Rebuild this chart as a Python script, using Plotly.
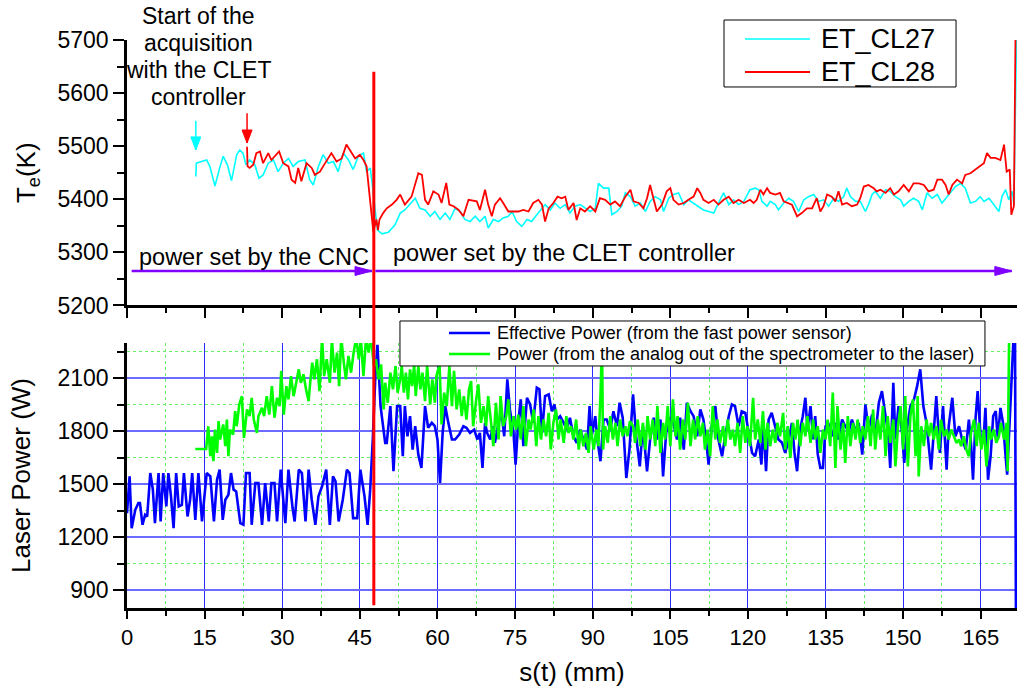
import plotly.graph_objects as go

FONT = "Liberation Sans, Arial, sans-serif"

# ---------------- electron temperature (upper panel) ----------------
cl27_s = [13.3, 13.4, 14.4, 15.4, 16.0, 17.0, 17.9, 18.6, 19.4, 20.2,
          21.2, 21.8, 22.4, 23.0, 23.7, 24.7, 25.5, 26.3, 27.3, 28.3,
          29.2, 30.2, 31.2, 32.1, 33.1, 34.4, 35.3, 36.0, 37.0, 37.9,
          38.9, 39.9, 40.8, 41.8, 42.8, 43.7, 44.7, 45.7, 46.3, 47.0,
          47.3, 47.9, 48.4, 49.3, 50.5, 51.8, 52.8, 53.7, 54.7, 55.7,
          56.6, 57.6, 58.6, 59.5, 60.5, 61.5, 62.4, 63.4, 64.4, 65.3,
          66.3, 67.3, 68.2, 69.2, 69.8, 70.8, 71.8, 72.7, 73.7, 74.4,
          75.3, 76.3, 77.3, 78.2, 79.2, 80.2, 80.8, 81.8, 82.7, 83.7,
          84.7, 85.6, 86.6, 87.6, 88.5, 89.5, 90.5, 91.1, 92.1, 93.1,
          93.7, 94.7, 95.6, 96.3, 97.3, 98.2, 99.2, 100.2, 101.1, 102.1,
          103.1, 103.7, 104.7, 105.6, 106.6, 107.6, 108.5, 109.5, 110.5, 111.4,
          112.4, 113.4, 114.3, 115.3, 116.3, 117.2, 118.2, 119.2, 120.4, 121.4,
          122.1, 122.7, 123.7, 124.3, 125.3, 125.9, 126.9, 127.9, 128.8, 129.8,
          130.8, 131.7, 132.7, 133.7, 134.6, 135.6, 136.6, 137.5, 138.5, 139.1,
          139.8, 140.8, 141.7, 142.7, 143.3, 144.0, 144.6, 145.6, 146.6, 147.5,
          148.5, 149.5, 150.1, 151.1, 152.0, 153.0, 153.7, 154.6, 155.6, 156.6,
          157.5, 158.5, 159.5, 160.1, 161.1, 162.0, 163.0, 164.0, 164.9, 165.6,
          166.6, 167.5, 168.5, 169.1, 169.8, 170.4, 171.1, 171.4, 171.9]
cl27_te = [5443, 5468, 5471, 5474, 5462, 5425, 5459, 5481, 5465, 5435,
           5484, 5493, 5487, 5465, 5474, 5465, 5440, 5446, 5468, 5474,
           5452, 5468, 5477, 5462, 5471, 5474, 5437, 5427, 5462, 5484,
           5468, 5471, 5452, 5487, 5474, 5456, 5481, 5487, 5452, 5459,
           5437, 5390, 5342, 5335, 5338, 5352, 5374, 5380, 5390, 5402,
           5383, 5380, 5368, 5377, 5362, 5374, 5362, 5383, 5377, 5362,
           5358, 5368, 5358, 5368, 5346, 5362, 5358, 5365, 5368, 5377,
           5358, 5349, 5362, 5358, 5371, 5383, 5390, 5380, 5393, 5383,
           5390, 5374, 5387, 5390, 5383, 5377, 5383, 5430, 5421, 5421,
           5371, 5377, 5387, 5412, 5405, 5387, 5393, 5377, 5396, 5405,
           5399, 5377, 5402, 5409, 5412, 5390, 5399, 5393, 5387, 5380,
           5377, 5374, 5393, 5412, 5390, 5399, 5390, 5396, 5418, 5421,
           5418, 5396, 5387, 5396, 5390, 5380, 5393, 5402, 5396, 5377,
           5399, 5405, 5409, 5396, 5399, 5387, 5402, 5396, 5405, 5421,
           5405, 5396, 5396, 5377, 5390, 5409, 5415, 5402, 5418, 5415,
           5405, 5399, 5387, 5396, 5402, 5396, 5380, 5412, 5402, 5409,
           5393, 5405, 5418, 5424, 5430, 5421, 5393, 5396, 5405, 5396,
           5402, 5390, 5377, 5405, 5418, 5399, 5415, 5390, 5700]

cl28_s = [23.2, 23.3, 23.7, 24.4, 25.0, 25.7, 26.3, 27.3, 27.9, 28.6,
          29.4, 30.2, 31.2, 31.8, 32.5, 33.1, 33.7, 34.7, 35.7, 36.3,
          37.3, 37.9, 38.6, 39.5, 40.5, 41.5, 42.4, 43.1, 44.1, 45.0,
          45.7, 46.3, 46.6, 47.3, 47.6, 48.2, 48.5, 48.8, 49.5, 50.2,
          51.2, 52.1, 52.8, 53.7, 55.0, 56.3, 57.0, 57.6, 58.2, 59.2,
          60.2, 60.8, 61.7, 62.3, 63.1, 64.1, 65.0, 66.0, 67.6, 68.2,
          69.2, 69.8, 70.5, 71.1, 72.1, 72.7, 73.7, 74.7, 75.6, 76.6,
          77.6, 78.5, 79.5, 80.2, 80.8, 81.5, 82.4, 83.2, 84.0, 84.7,
          85.3, 86.3, 86.9, 87.6, 88.5, 89.5, 90.5, 91.4, 92.4, 93.4,
          94.3, 95.3, 96.3, 97.3, 97.9, 98.9, 99.8, 100.5, 101.1, 101.8,
          102.4, 103.4, 104.3, 105.0, 105.6, 106.6, 107.6, 108.5, 109.5, 110.2,
          110.8, 111.4, 112.4, 113.4, 114.3, 115.3, 116.3, 117.2, 118.2, 119.2,
          120.4, 121.1, 121.7, 122.4, 123.0, 123.7, 124.3, 125.3, 126.2, 126.9,
          127.9, 128.5, 129.5, 130.4, 131.4, 132.4, 133.3, 134.0, 134.6, 135.3,
          136.2, 136.9, 137.5, 138.2, 139.1, 140.1, 141.1, 141.7, 142.4, 143.3,
          144.3, 144.9, 145.6, 146.6, 147.5, 148.2, 149.1, 150.1, 151.1, 152.0,
          153.0, 154.0, 154.9, 155.9, 156.6, 157.5, 158.2, 158.8, 159.5, 160.4,
          161.4, 162.0, 163.0, 164.0, 164.9, 165.6, 166.2, 166.9, 167.8, 168.8,
          169.5, 170.0, 170.6, 170.9, 171.4, 171.7]
cl28_te = [5499, 5462, 5459, 5465, 5487, 5490, 5468, 5487, 5474, 5481,
           5490, 5468, 5462, 5437, 5431, 5459, 5434, 5468, 5459, 5446,
           5452, 5462, 5474, 5487, 5471, 5477, 5503, 5493, 5477, 5484,
           5474, 5462, 5436, 5374, 5339, 5362, 5342, 5362, 5374, 5383,
           5390, 5399, 5409, 5390, 5405, 5449, 5446, 5399, 5390, 5415,
           5409, 5393, 5431, 5390, 5387, 5380, 5368, 5399, 5396, 5380,
           5418, 5390, 5368, 5390, 5402, 5393, 5377, 5377, 5377, 5380,
           5377, 5393, 5399, 5390, 5358, 5383, 5393, 5405, 5402, 5405,
           5380, 5393, 5361, 5383, 5377, 5387, 5377, 5402, 5399, 5390,
           5396, 5387, 5405, 5418, 5396, 5393, 5383, 5402, 5427, 5399,
           5377, 5390, 5415, 5421, 5399, 5390, 5393, 5399, 5405, 5421,
           5412, 5399, 5393, 5399, 5390, 5399, 5405, 5393, 5399, 5393,
           5399, 5393, 5399, 5418, 5409, 5421, 5412, 5409, 5412, 5396,
           5393, 5390, 5368, 5374, 5383, 5383, 5402, 5377, 5387, 5409,
           5405, 5396, 5415, 5390, 5393, 5387, 5390, 5402, 5424, 5427,
           5421, 5415, 5418, 5412, 5421, 5409, 5415, 5427, 5415, 5430,
           5430, 5427, 5415, 5418, 5437, 5437, 5427, 5409, 5427, 5437,
           5430, 5446, 5449, 5456, 5462, 5468, 5487, 5478, 5478, 5474,
           5503, 5452, 5456, 5371, 5387, 5700]

# ---------------- laser power (lower panel) ----------------
eff_s = [0.0, 0.5, 0.9, 1.6, 2.2, 2.5, 3.0, 3.5, 3.9, 4.5,
         5.0, 5.4, 6.1, 6.5, 7.0, 7.6, 8.0, 8.5, 9.0, 9.5,
         10.0, 10.6, 11.0, 11.7, 12.2, 12.6, 13.2, 13.8, 14.5, 15.4,
         16.1, 16.8, 17.4, 17.9, 18.5, 19.0, 19.6, 20.1, 20.6, 21.1,
         21.9, 22.5, 23.0, 23.7, 24.1, 24.8, 25.4, 26.1, 26.7, 27.4,
         27.9, 28.5, 29.0, 29.7, 30.6, 31.2, 32.0, 32.4, 33.2, 33.8,
         34.5, 35.1, 35.7, 36.4, 37.0, 37.7, 38.5, 39.2, 39.8, 40.3,
         40.9, 41.7, 42.5, 43.0, 43.7, 44.5, 45.1, 45.9, 46.5, 47.0,
         47.5, 48.0, 48.4, 49.0, 49.9, 50.2, 50.9, 51.5, 52.2,
         52.8, 53.3, 53.7, 54.2, 54.7, 55.2, 55.7, 56.3, 56.9, 57.6,
         58.2, 58.9, 59.5, 60.0, 60.5, 61.0, 61.5, 62.1, 62.8, 63.4,
         64.2, 65.0, 65.6, 66.3, 67.1, 67.7, 68.2, 68.7, 69.2, 69.6,
         70.2, 70.7, 71.1, 71.8, 72.4, 72.9, 73.5, 74.0, 74.7, 75.1,
         75.6, 76.1, 76.6, 77.3, 77.9, 78.5, 79.2, 79.7, 80.2, 80.8,
         81.5, 82.1, 82.6, 83.1, 83.7, 84.4, 85.0, 85.6, 86.3, 86.9,
         87.6, 88.2, 88.9, 89.4, 89.8, 90.5, 90.9, 91.5, 92.1, 92.7,
         93.4, 94.0, 94.7, 95.2, 95.8, 96.5, 97.1, 97.8, 98.4, 99.1,
         99.7, 100.5, 101.1, 101.8, 102.4, 103.1, 103.6, 104.2, 104.9, 105.5,
         106.3, 106.9, 107.6, 108.2, 108.9, 109.5, 110.2,
         110.8, 111.4, 111.9, 112.4, 113.0, 113.7, 114.3, 115.0, 115.6, 116.3,
         116.9, 117.5, 118.2, 118.8, 119.5, 120.1, 120.8, 121.4, 122.1, 122.6,
         123.0, 123.5, 124.0, 124.6, 125.3, 125.9, 126.6, 127.2, 127.9, 128.5,
         129.0, 129.5, 130.1, 130.6, 131.1, 131.5, 132.1, 132.6, 133.0, 133.5,
         134.0, 134.5, 135.0, 135.6, 136.3, 136.9, 137.5, 138.2, 138.8, 139.5,
         140.1, 140.8, 141.4, 142.1, 142.7, 143.3, 144.0, 144.6, 145.3, 145.9,
         146.6, 147.1, 147.5, 148.1, 148.5, 149.1, 149.8, 150.2, 150.8, 151.4,
         152.1, 152.7, 153.3, 153.9, 154.5, 155.0, 155.4, 155.9, 156.4, 157.1,
         157.7, 158.4, 158.8, 159.5, 160.1, 160.8, 161.4, 162.1, 162.7, 163.1,
         163.5, 164.0, 164.4, 165.0, 165.5, 165.9, 166.4, 166.9, 167.4, 167.9,
         168.3, 168.8, 169.3, 169.8, 170.1, 171.6, 171.8]
eff_p = [1337, 1545, 1252, 1356, 1394, 1394, 1271, 1328, 1318, 1564,
         1470, 1280, 1564, 1290, 1564, 1375, 1564, 1432, 1252, 1564,
         1375, 1384, 1564, 1318, 1413, 1564, 1299, 1564, 1290, 1564,
         1545, 1290, 1526, 1583, 1299, 1413, 1441, 1564, 1470, 1460,
         1280, 1271, 1564, 1564, 1271, 1507, 1507, 1271, 1507, 1290,
         1507, 1507, 1290, 1583, 1280, 1583, 1366, 1290, 1583, 1564,
         1290, 1583, 1413, 1271, 1432, 1489, 1583, 1271, 1545, 1517,
         1290, 1413, 1583, 1564, 1309, 1309, 1583, 1432, 1271, 1470,
         1754, 2113, 2290, 1943, 1735, 1735, 1943, 1574, 1943,
         1943, 1659, 1943, 1772, 1886, 1697, 1829, 1668, 1593, 1943,
         1820, 1848, 1829, 1754, 1508, 1791, 1943, 1848, 1754, 1754,
         1782, 1829, 1820, 1791, 1810, 1754, 1791, 1593, 1848, 1791,
         1754, 1829, 1735, 1848, 1905, 1772, 2094, 1924, 1791, 1612,
         1848, 1981, 1716, 1990, 1952, 1848, 2047, 2038, 1791, 1999,
         2009, 1914, 1952, 1867, 1886, 1848, 1810, 1877, 1772, 1735,
         1810, 1754, 1697, 1943, 1772, 1886, 1754, 1631, 1867, 1867,
         1810, 1914, 1829, 1962, 1877, 1536, 1697, 2009, 1772, 1602,
         1829, 1574, 1754, 1877, 1754, 1867, 1545, 1791, 1877, 1858,
         1754, 1877, 1697, 1962, 1914, 1886, 1772,
         1924, 1867, 1754, 1612, 1829, 1943, 1754, 1659, 1772, 1886,
         1952, 1943, 1829, 1914, 1905, 1791, 1678, 1659, 1754, 1612,
         1848, 1574, 1867, 1905, 1829, 1754, 1735, 1678, 1754, 1848,
         1678, 1574, 1810, 1886, 1990, 1810, 1943, 1754, 1886, 1668,
         1593, 1593, 1829, 1839, 1772, 1848, 1754, 1867, 1829, 1801,
         1867, 1801, 1848, 1668, 1952, 1810, 1895, 1772, 1962, 2028,
         1886, 1791, 1593, 2075, 1754, 1943, 1791, 1621, 1829, 1943,
         1981, 2056, 2151, 1943, 1848, 1678, 1583, 1791, 2000, 1678,
         1943, 1583, 1829, 1990, 1772, 1829, 1754, 1697, 1867, 1735,
         1526, 1877, 2028, 1754, 1735, 1933, 1526, 1659, 1886, 1914,
         1754, 1933, 1848, 1659, 1555, 2500, 700]

ana_s = [13.2, 15.3, 15.7, 16.1, 16.4, 16.7, 17.0, 17.4, 17.7, 18.0,
         18.6, 19.0, 19.3, 19.6, 19.9, 20.5, 20.9, 21.2, 21.7, 22.2,
         22.6, 23.2, 23.7, 24.1, 24.5, 25.1, 25.4, 26.1, 26.5, 27.0,
         27.5, 28.0, 28.5, 29.0, 29.5, 29.8, 30.3, 30.8, 31.2, 31.7,
         32.2, 32.7, 33.2, 33.6, 34.1, 34.6, 35.1, 35.4, 35.8, 36.2,
         36.7, 37.2, 37.7, 38.1, 38.6, 39.2, 39.6, 40.1, 40.6, 41.0,
         41.4, 41.9, 42.3, 42.8, 43.3, 43.8, 44.3, 44.8, 45.2, 45.7,
         46.2, 46.7, 47.2, 47.7, 48.1, 48.6, 49.1, 49.6, 49.9, 50.4,
         50.9, 51.4, 51.9, 52.3,
         52.8, 53.1, 53.5, 53.9, 54.3, 54.7, 55.1, 55.5, 55.8, 56.3,
         56.7, 57.1, 57.6, 58.0, 58.6, 59.0, 59.5, 59.8, 60.4, 60.8,
         61.3, 61.8, 62.3, 62.8, 63.2, 63.7, 64.2, 64.7, 65.1, 65.6,
         66.1, 66.5, 66.9, 67.5, 67.9, 68.4, 68.9, 69.4, 69.8, 70.3,
         70.8, 71.3, 71.8, 72.2, 72.7, 73.3, 73.7, 74.2, 74.7, 75.2,
         75.6, 76.1, 76.6, 77.1, 77.6, 78.0, 78.6, 79.1, 79.5, 80.0,
         80.5, 81.0, 81.5, 81.9, 82.4, 82.9, 83.4, 83.8, 84.4, 84.9,
         85.3, 85.8, 86.3, 86.8, 87.3, 87.7, 88.2, 88.7, 89.2, 89.6,
         90.2, 90.7, 91.1, 91.5, 91.8, 92.0, 92.4, 92.9, 93.4, 93.9,
         94.4, 94.8, 95.3, 95.8, 96.3, 96.7, 97.2, 97.8, 98.2, 98.7,
         99.2, 99.7, 100.2, 100.6, 101.1, 101.6, 102.1, 102.5, 103.1, 103.6,
         104.0, 104.5, 105.0, 105.5, 106.0, 106.4, 106.9, 107.4, 107.9, 108.4,
         108.9, 109.4, 109.8, 110.3,
         110.8, 111.3, 111.7, 112.2, 112.7, 113.2, 113.7, 114.1, 114.6, 115.2,
         115.6, 116.1, 116.6, 117.1, 117.5, 118.0, 118.5, 119.0, 119.5, 119.9,
         120.4, 121.0, 121.4, 121.9, 122.4, 122.9, 123.4, 123.8, 124.3, 124.8,
         125.3, 125.7, 126.2, 126.8, 127.2, 127.7, 128.2, 128.7, 129.2, 129.6,
         130.1, 130.6, 131.1, 131.5, 132.1, 132.6, 133.0, 133.5, 134.0, 134.5,
         135.0, 135.4, 135.9, 136.4, 136.9, 137.3, 137.9, 138.4, 138.8, 139.3,
         139.8, 140.3, 140.8, 141.2, 141.7, 142.2, 142.7, 143.2, 143.7, 144.2,
         144.6, 145.1, 145.6, 146.1, 146.6, 147.0, 147.5, 148.1, 148.5, 149.0,
         149.5, 150.0, 150.4, 150.9, 151.4, 151.9, 152.4, 152.8, 153.0, 153.5,
         154.0, 154.5, 155.0, 155.4, 155.9, 156.4, 156.9, 157.3, 157.9, 158.4,
         158.8, 159.3, 159.8, 160.3, 160.8, 161.2, 161.7, 162.2, 162.7, 163.1,
         163.7, 164.2, 164.6, 165.1, 165.6, 166.1, 166.6, 167.0, 167.5, 168.0,
         168.5, 168.9, 169.5, 170.0, 170.2, 170.5]
ana_p = [1700, 1700, 1829, 1659, 1772, 1631, 1810, 1678, 1858, 1754,
         1839, 1716, 1867, 1659, 1810, 1782, 1914, 1829, 1952, 1999,
         1763, 1924, 1886, 1990, 1867, 1791, 1886, 1933, 1886, 1999,
         1895, 2056, 1877, 1990, 1943, 2142, 1895, 2056, 1981, 2113,
         1999, 2066, 2151, 2075, 2123, 2038, 1971, 2075, 2189, 2094,
         2208, 2028, 2330, 2113, 2208, 2075, 2320, 2132, 2246, 2056,
         2330, 2189, 2094, 2227, 2132, 2246, 2330, 2208, 2320, 2113,
         2330, 2246, 2330, 2170, 2208, 2094, 2179, 1924, 2075, 1962,
         2132, 2038, 2170, 2019,
         2094, 2170, 2019, 2132, 1981, 2151, 2056, 2179, 2000, 2170,
         2038, 2132, 1971, 2170, 1952, 2094, 1962, 2113, 2179, 1839,
         2019, 1943, 2170, 1943, 2142, 1924, 2038, 1886, 2000, 1867,
         2038, 2085, 1829, 1981, 2066, 1848, 1943, 1829, 2000, 1867,
         1716, 1962, 1754, 2000, 1829, 1886, 1981, 1772, 1886, 1810,
         1895, 1754, 1943, 1716, 1867, 1810, 1924, 1716, 1886, 1754,
         1867, 1772, 1905, 1697, 1848, 1924, 1754, 1867, 1735, 1886,
         1791, 1829, 1754, 1867, 1697, 1810, 1716, 1791, 1678, 1829,
         1697, 1810, 1716, 2000, 2300, 1697, 1829, 1735, 1886, 1754,
         1848, 1716, 1867, 1772, 1829, 1772, 1858, 1829, 1735, 1867,
         1716, 1848, 1697, 1886, 1754, 1867, 1716, 1943, 1678, 1848,
         1754, 1943, 1716, 1981, 1772, 1886, 1697, 1867, 1754, 1962,
         1716, 1867, 1754, 1886,
         1772, 1848, 1697, 1810, 1659, 1943, 1754, 1867, 1735, 1829,
         1716, 1867, 1754, 1810, 1716, 1848, 1678, 1886, 1735, 1829,
         1716, 1990, 1754, 1867, 1735, 1914, 1697, 1848, 1716, 1810,
         1735, 1848, 1772, 1905, 1697, 1829, 1649, 1848, 1754, 1867,
         1716, 1848, 1772, 1886, 1735, 1867, 1754, 1829, 1678, 1810,
         1754, 1867, 1716, 2019, 1593, 1943, 1697, 1848, 1621, 1886,
         1716, 1848, 1754, 1867, 1735, 1829, 1754, 1886, 1716, 1924,
         1697, 1867, 1754, 1943, 1659, 1886, 1735, 1867, 1602, 1829,
         1943, 1697, 2000, 1602, 1886, 1981, 1659, 2000, 1545, 1829,
         1716, 1867, 1772, 1848, 1754, 1829, 1697, 1867, 1772, 1810,
         1754, 1810, 1772, 1735, 1754, 1716, 1772, 1697, 1659, 1791,
         1867, 1716, 1848, 1697, 1810, 1602, 1829, 1754, 1810, 1735,
         1772, 1848, 1754, 1848, 1574, 2400]

# axis ticks
s_ticks = list(range(0, 166, 15))
te_ticks = [5200, 5300, 5400, 5500, 5600, 5700]
p_ticks = [900, 1200, 1500, 1800, 2100]

# switch from CNC power setting to the CLET controller
switch_s = 47.7
arrow_te = 5265

# series styling
CYAN, RED, BLUE, GREEN, PURPLE = "#00FFFF", "#FF0000", "#0000FF", "#00FF00", "#8000FF"
name27, name28 = "ET_CL27", "ET_CL28"
name_eff = "Effective Power (from the fast power sensor)"
name_ana = "Power (from the analog out of the spectrometer to the laser)"

fig = go.Figure()
fig.add_trace(go.Scatter(x=cl27_s, y=cl27_te, mode="lines", name=name27,
                         line=dict(color=CYAN, width=1.6), xaxis="x2", yaxis="y2"))
fig.add_trace(go.Scatter(x=cl28_s, y=cl28_te, mode="lines", name=name28,
                         line=dict(color=RED, width=1.8), xaxis="x2", yaxis="y2"))
fig.add_trace(go.Scatter(x=eff_s, y=eff_p, mode="lines", name=name_eff,
                         line=dict(color=BLUE, width=2.6), xaxis="x", yaxis="y"))
fig.add_trace(go.Scatter(x=ana_s, y=ana_p, mode="lines", name=name_ana,
                         line=dict(color=GREEN, width=2.6), xaxis="x", yaxis="y"))

x_tick_font = dict(family=FONT, size=22, color="black")
y_tick_font = dict(family=FONT, size=23, color="black")
common_x = dict(range=[0, 172], tickvals=s_ticks, showline=True, linecolor="black",
                linewidth=2.5, ticks="outside", tickwidth=2, tickcolor="black",
                zeroline=False, tickfont=x_tick_font)
dotted_green = "#66ee66"

fig.update_layout(
    width=1024, height=693,
    margin=dict(l=127, r=7, t=40, b=85),
    paper_bgcolor="white", plot_bgcolor="white",
    font=dict(family=FONT, color="black"),
    showlegend=False,
    xaxis=dict(**common_x, anchor="y", ticklen=8,
               showgrid=True, gridcolor="#2a2aff", gridwidth=1,
               minor=dict(dtick=7.5, tick0=0, ticks="outside", ticklen=5, tickwidth=2,
                          tickcolor="black", showgrid=True, gridcolor=dotted_green,
                          griddash="dot", gridwidth=1),
               title=dict(text="s(t) (mm)", font=dict(family=FONT, size=26), standoff=14)),
    xaxis2=dict(**common_x, anchor="y2", matches="x", ticklen=10, showticklabels=False,
                showgrid=False,
                minor=dict(dtick=7.5, tick0=0, ticks="outside", ticklen=5, tickwidth=2,
                           tickcolor="black", showgrid=False)),
    yaxis=dict(domain=[0, 0.4665], range=[800, 2300], tickvals=p_ticks,
               showline=True, linecolor="black", linewidth=2.5, ticks="outside",
               ticklen=11, tickwidth=2, tickcolor="black", zeroline=False,
               tickfont=y_tick_font, showgrid=True, gridcolor="#6b6bff", gridwidth=2,
               minor=dict(dtick=150, tick0=900, ticks="outside", ticklen=7, tickwidth=2,
                          tickcolor="black", showgrid=True, gridcolor=dotted_green,
                          griddash="dot", gridwidth=1),
               title=dict(text="Laser Power (W)", font=dict(family=FONT, size=26),
                          standoff=20)),
    yaxis2=dict(domain=[0.5326, 1], range=[5200, 5700], tickvals=te_ticks,
                showline=True, linecolor="black", linewidth=2.5, ticks="outside",
                ticklen=11, tickwidth=2, tickcolor="black", zeroline=False,
                tickfont=y_tick_font, showgrid=False,
                minor=dict(dtick=50, tick0=5200, ticks="outside", ticklen=7, tickwidth=2,
                           tickcolor="black", showgrid=False),
                title=dict(text="T<sub>e</sub>(K)", font=dict(family=FONT, size=26),
                           standoff=15)),
)

shapes = []
annotations = []

# vertical marker at the switch position, spanning both panels
shapes.append(dict(type="line", xref="x", yref="paper", x0=switch_s, x1=switch_s,
                   y0=0.005, y1=0.944, line=dict(color=RED, width=3)))


def arrow(x0, y0, x1, y1, color, width, head):
    """Arrow in data coordinates of the upper panel; head path given in pixels."""
    shapes.append(dict(type="line", xref="x2", yref="y2", x0=x0, y0=y0, x1=x1, y1=y1,
                       line=dict(color=color, width=width)))
    shapes.append(dict(type="path", xref="x2", yref="y2", xsizemode="pixel",
                       ysizemode="pixel", xanchor=x1, yanchor=y1, path=head,
                       fillcolor=color, line=dict(color=color, width=1)))


RIGHT_HEAD = "M0,0 L-17,4.5 L-17,-4.5 Z"
DOWN_HEAD = "M0,0 L-5,13 L5,13 Z"
# span of the CNC-driven power and of the CLET-driven power
arrow(0.9, arrow_te, 47.35, arrow_te, PURPLE, 2.5, RIGHT_HEAD)
arrow(48.0, arrow_te, 171.0, arrow_te, PURPLE, 2.5, RIGHT_HEAD)
# start of the acquisition for each run
arrow(13.3, 5548, 13.3, 5493, CYAN, 1.5, DOWN_HEAD)
arrow(23.2, 5562, 23.2, 5506, RED, 1.5, DOWN_HEAD)

# note on the start of acquisition, one line per row
note_lines = ["Start of the", "acquisition", "with the CLET", "controller"]
note_rows = [1.0423, 0.9947, 0.9472, 0.8996]
for txt, yy in zip(note_lines, note_rows):
    annotations.append(dict(text=txt, xref="paper", yref="paper", x=0.0798, y=yy,
                            xanchor="center", yanchor="middle", showarrow=False,
                            font=dict(family=FONT, size=23, color="black")))

annotations.append(dict(text="power set by the CNC", xref="x2", yref="y2", x=24.45, y=5292,
                        xanchor="center", yanchor="middle", showarrow=False,
                        font=dict(family=FONT, size=23.5, color="black")))
annotations.append(dict(text="power set by the CLET controller", xref="x2", yref="y2",
                        x=51.0, y=5298, xanchor="left", yanchor="middle", showarrow=False,
                        font=dict(family=FONT, size=23.5, color="black")))


def legend_box(x0, x1, y0, y1, entries, sample_x, text_x, size):
    """Framed key: entries are (label, colour, line width, row y) in paper units."""
    shapes.append(dict(type="rect", xref="paper", yref="paper", x0=x0, x1=x1, y0=y0, y1=y1,
                       fillcolor="white", line=dict(color="black", width=1), layer="above"))
    for label, color, width, yy in entries:
        shapes.append(dict(type="line", xref="paper", yref="paper", x0=sample_x[0],
                           x1=sample_x[1], y0=yy, y1=yy, line=dict(color=color, width=width)))
        annotations.append(dict(text=label, xref="paper", yref="paper", x=text_x, y=yy,
                                xanchor="left", yanchor="middle", showarrow=False,
                                font=dict(family=FONT, size=size, color="black")))


legend_box(0.6708, 0.9315, 0.9173, 1.0352,
           [(name27, CYAN, 1.6, 1.0018), (name28, RED, 1.8, 0.9437)],
           (0.6944, 0.7674), 0.7775, 27)
legend_box(0.3067, 0.9640, 0.4261, 0.5053,
           [(name_eff, BLUE, 2.6, 0.4842), (name_ana, GREEN, 2.6, 0.4472)],
           (0.3618, 0.4079), 0.4135, 18)

fig.update_layout(shapes=shapes, annotations=annotations)

fig.write_html("out.html")
